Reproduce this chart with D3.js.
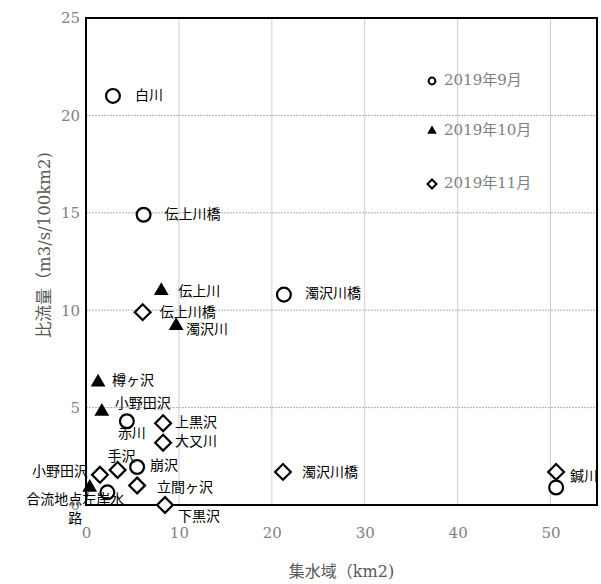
<!DOCTYPE html>
<html><head><meta charset="utf-8">
<script src="https://cdn.jsdelivr.net/npm/d3@7"></script>
<style>body{margin:0;background:#fff}</style>
</head><body><svg id="c" width="601" height="584"></svg>
<script>
// ---- data ----
const seriesNames = ["2019年9月", "2019年10月", "2019年11月"];

const sepNames = ["白川", "伝上川橋", "濁沢川橋", "赤川", "崩沢", "合流地点左岸水路", "鍼川"];
const sepArea  = [2.9, 6.2, 21.3, 4.4, 5.5, 2.3, 50.6];
const sepFlow  = [21.0, 14.9, 10.8, 4.3, 1.95, 0.65, 0.9];
const sepLabel = [true, true, true, true, true, true, false];

const octNames = ["伝上川", "濁沢川", "樽ヶ沢", "小野田沢", ""];
const octArea  = [8.1, 9.7, 1.3, 1.7, 0.4];
const octFlow  = [11.0, 9.2, 6.3, 4.8, 0.9];

const novNames = ["伝上川橋", "上黒沢", "大又川", "小野田沢", "手沢", "立間ヶ沢", "下黒沢", "濁沢川橋", "鍼川"];
const novArea  = [6.1, 8.3, 8.3, 1.5, 3.4, 5.5, 8.5, 21.2, 50.6];
const novFlow  = [9.9, 4.2, 3.2, 1.55, 1.8, 1.0, 0.0, 1.7, 1.7];

const xTicks = [0, 10, 20, 30, 40, 50];
const yTicks = [0, 5, 10, 15, 20, 25];
const xTitle = "集水域（km2)";
const yTitle = "比流量（m3/s/100km2)";

// ---- label placement (pixel offsets from marker) ----
const sepLab = [[22,0,"start"],[21,0,"start"],[21,0,"start"],[-9,13,"start"],[13,-1,"start"],[-32,8,"middle"],[0,0,"start"]];
const octLab = [[17,1,"start"],[10,4,"start"],[14,-1,"start"],[13,-7,"start"],[0,0,"start"]];
const novLab = [[17,1,"start"],[12,0,"start"],[12,0,"start"],[-12,-3,"end"],[4,-13,"middle"],[20,3,"start"],[13,12,"start"],[19,1,"start"],[14,5,"start"]];

// ---- layout ----
const L = 86, R = 597, T = 18, B = 505;
const svg = d3.select("#c");
const x = d3.scaleLinear().domain([0, 55]).range([L, R]);
const y = d3.scaleLinear().domain([0, 25]).range([B, T]);

// gridlines
const g = svg.append("g");
g.selectAll("line.vx").data(xTicks.filter(d => d > 0)).join("line")
  .attr("x1", d => x(d)).attr("x2", d => x(d)).attr("y1", T).attr("y2", B)
  .attr("stroke", "#d0d0d0").attr("stroke-width", 1);
g.selectAll("line.hy").data(yTicks.filter(d => d > 0 && d < 25)).join("line")
  .attr("x1", L).attr("x2", R).attr("y1", d => y(d)).attr("y2", d => y(d))
  .attr("stroke", "#b0b0b0").attr("stroke-width", 1).attr("stroke-dasharray", "2,1");

// axes (tick labels only)
const serif = "'DejaVu Serif', 'Liberation Serif', serif";
const xAxis = d3.axisBottom(x).tickValues(xTicks).tickSize(0).tickPadding(0);
const yAxis = d3.axisLeft(y).tickValues(yTicks).tickSize(0).tickPadding(0);
const ax = svg.append("g").attr("transform", `translate(0,${B + 28})`).call(xAxis);
const ay = svg.append("g").attr("transform", `translate(${L - 6},0)`).call(yAxis);
[ax, ay].forEach(a => {
  a.select(".domain").remove();
  a.selectAll("text").attr("font-family", serif).attr("font-size", 15).attr("fill", "#7f7f7f");
});
ax.selectAll("text").attr("dy", "0.32em");

// frame
svg.append("rect").attr("x", L).attr("y", T).attr("width", R - L).attr("height", B - T)
  .attr("fill", "none").attr("stroke", "#000").attr("stroke-width", 2);

// titles
const tf = "'DejaVu Serif', 'Noto Sans CJK JP', serif";
svg.append("text").attr("x", (L + R) / 2).attr("y", 572).attr("text-anchor", "middle")
  .attr("dominant-baseline", "middle").attr("font-family", tf).attr("font-size", 16)
  .attr("fill", "#595959").text(xTitle);
svg.append("text").attr("transform", `translate(45,245) rotate(-90)`)
  .attr("text-anchor", "middle").attr("dominant-baseline", "middle").attr("font-family", tf)
  .attr("font-size", 16.5).attr("fill", "#595959").text(yTitle);

// markers
const circleSym = d3.symbol().type(d3.symbolCircle).size(150)();
const triSym = d3.symbol().type(d3.symbolTriangle).size(95)();
const diaSym = d3.symbol().type(d3.symbolSquare).size(125)();

function drawSeries(names, xs, ys, sym, fill, rot, labs, show) {
  const data = names.map((n, i) => ({n, x: xs[i], y: ys[i], lab: labs[i], show: show ? show[i] : true}));
  const gg = svg.append("g");
  gg.selectAll("path").data(data).join("path")
    .attr("d", sym)
    .attr("transform", d => `translate(${x(d.x)},${y(d.y)}) rotate(${rot})`)
    .attr("fill", fill).attr("stroke", "#000").attr("stroke-width", fill === "#000" ? 0 : 2.2);
  return data;
}
const sepD = drawSeries(sepNames, sepArea, sepFlow, circleSym, "#fff", 0, sepLab, sepLabel);
const octD = drawSeries(octNames, octArea, octFlow, triSym, "#000", 0, octLab);
const novD = drawSeries(novNames, novArea, novFlow, diaSym, "#fff", 45, novLab);

// labels
const lf = "'Noto Sans CJK JP', sans-serif";
const lg = svg.append("g").attr("font-family", lf).attr("font-size", 14).attr("fill", "#000");
[sepD, octD, novD].forEach(data => {
  data.filter(d => d.show && d.n).forEach(d => {
    const t = lg.append("text").attr("x", x(d.x) + d.lab[0]).attr("y", y(d.y) + d.lab[1])
      .attr("text-anchor", d.lab[2]).attr("dominant-baseline", "middle");
    if (d.n.length > 7) {
      t.append("tspan").attr("x", x(d.x) + d.lab[0]).text(d.n.slice(0, 7));
      t.append("tspan").attr("x", x(d.x) + d.lab[0]).attr("dy", 19).text(d.n.slice(7));
    } else t.text(d.n);
  });
});

// legend
const legSyms = [
  d3.symbol().type(d3.symbolCircle).size(36)(),
  d3.symbol().type(d3.symbolTriangle).size(40)(),
  d3.symbol().type(d3.symbolSquare).size(40)()
];
const legFill = ["#fff", "#000", "#fff"];
const legRot = [0, 0, 45];
const legY = [81, 131, 184];
const leg = svg.append("g");
seriesNames.forEach((s, i) => {
  leg.append("path").attr("d", legSyms[i]).attr("transform", `translate(432,${legY[i]}) rotate(${legRot[i]})`)
    .attr("fill", legFill[i]).attr("stroke", "#000").attr("stroke-width", i === 1 ? 0 : 2);
  leg.append("text").attr("x", 444).attr("y", legY[i]).attr("dominant-baseline", "middle")
    .attr("font-family", tf).attr("font-size", 15).attr("fill", "#7f7f7f").text(s);
});
</script></body></html>
